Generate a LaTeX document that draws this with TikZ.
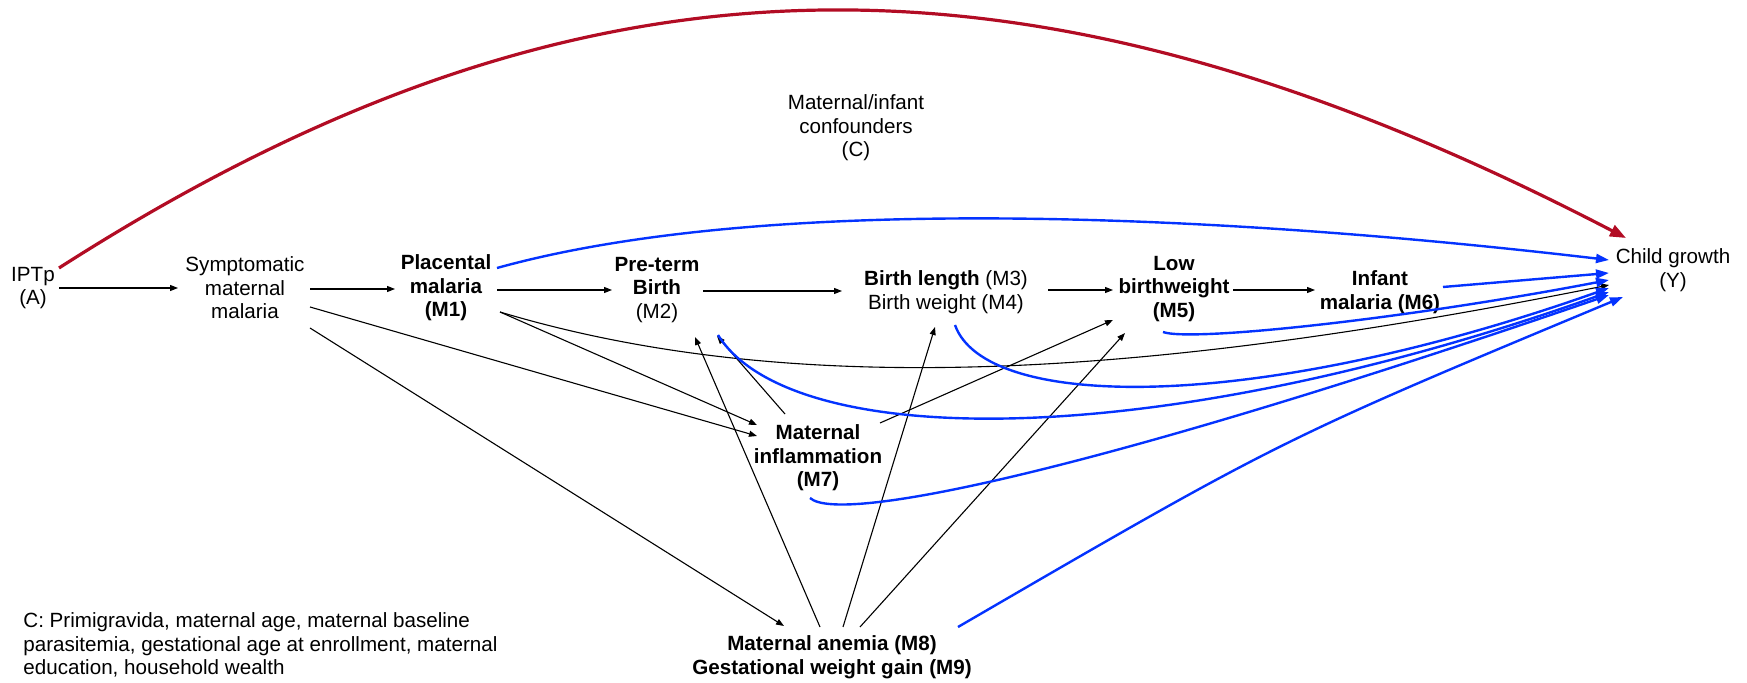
\documentclass[tikz,border=0pt]{standalone}
\usepackage{fontspec}
\setmainfont{Liberation Sans}
\usetikzlibrary{arrows.meta,calc}
\definecolor{cblue}{RGB}{4,51,255}
\definecolor{cred}{RGB}{178,12,36}
\begin{document}
\begin{tikzpicture}[x=0.5pt,y=-0.5pt,
  lbl/.style={align=center,inner sep=0pt,font=\fontsize{10.3}{11.8}\selectfont},
  blk/.style={draw=black,line width=0.55pt,-{Triangle[length=4pt,width=3pt]}},
  blu/.style={draw=cblue,line width=1.2pt,-{Triangle[length=6.5pt,width=4.5pt]}},
  redarr/.style={draw=cred,line width=1.6pt,-{Triangle[length=8pt,width=6pt]}}]
\useasboundingbox (0,0) rectangle (1747,683);

% nodes
\node[lbl] (A) at (33,288) {IPTp\\(A)};
\node[lbl] (S) at (245,288) {Symptomatic\\maternal\\malaria};
\node[lbl] (M1) at (446,288) {\textbf{Placental}\\\textbf{malaria}\\\textbf{(M1)}};
\node[lbl] (M2) at (657,290) {\textbf{Pre-term}\\\textbf{Birth}\\(M2)};
\node[lbl] (M34) at (946,292) {\textbf{Birth length} (M3)\\Birth weight (M4)};
\node[lbl] (M5) at (1174,289) {\textbf{Low}\\\textbf{birthweight}\\\textbf{(M5)}};
\node[lbl] (M6) at (1380,292) {\textbf{Infant}\\\textbf{malaria (M6)}};
\node[lbl] (Y) at (1673,270) {Child growth\\(Y)};
\node[lbl] (C) at (856,128) {Maternal/infant\\confounders\\(C)};
\node[lbl] (M7) at (818,458) {\textbf{Maternal}\\\textbf{inflammation}\\\textbf{(M7)}};
\node[lbl] (M89) at (832,657) {\textbf{Maternal anemia (M8)}\\\textbf{Gestational weight gain (M9)}};
\node[lbl,align=left,anchor=west] (L) at (23,645) {C: Primigravida, maternal age, maternal baseline\\parasitemia, gestational age at enrollment, maternal\\education, household wealth};

% red total effect
\draw[redarr] ($(A)+(26,-20)$) .. controls (579,-65) and (1026,-74) .. ($(Y)+(-47,-32)$);

% black straight chain
\draw[blk] ($(A)+(26,0)$) -- ($(S)+(-67,0)$);
\draw[blk] ($(S)+(65,1)$) -- ($(M1)+(-51,1)$);
\draw[blk] ($(M1)+(51,2)$) -- ($(M2)+(-45,0)$);
\draw[blk] ($(M2)+(46,1)$) -- ($(M34)+(-104,-1)$);
\draw[blk] ($(M34)+(102,-2)$) -- ($(M5)+(-61,1)$);
\draw[blk] ($(M5)+(59,1)$) -- ($(M6)+(-65,-2)$);

% black diagonal
\draw[blk] ($(S)+(65,19)$) -- ($(M7)+(-61,-22)$);
\draw[blk] ($(M1)+(54,24)$) -- ($(M7)+(-61,-33)$);
\draw[blk] ($(M1)+(54,24)$) .. controls (800,402) and (1159,375) .. ($(Y)+(-64,15)$);
\draw[blk] ($(S)+(65,40)$) -- ($(M89)+(-48,-31)$);
\draw[blk] ($(M7)+(-33,-44)$) -- ($(M2)+(60,46)$);
\draw[blk] ($(M89)+(-12,-30)$) -- ($(M2)+(38,47)$);
\draw[blk] ($(M89)+(11,-30)$) -- ($(M34)+(-11,35)$);
\draw[blk] ($(M89)+(28,-30)$) -- ($(M5)+(-49,44)$);
\draw[blk] ($(M7)+(62,-35)$) -- ($(M5)+(-61,31)$);

% blue
\draw[blu] ($(M1)+(51,-20)$) .. controls (760,195) and (1200,212) .. ($(Y)+(-64,-10)$);
\draw[blu] ($(M6)+(63,-5)$) -- ($(Y)+(-64,3)$);
\draw[blu] ($(M5)+(-11,43)$) .. controls (1190,342) and (1400,320) .. ($(Y)+(-64,10)$);
\draw[blu] ($(M34)+(9,33)$) .. controls (985,410) and (1250,415) .. ($(Y)+(-64,18)$);
\draw[blu] ($(M2)+(61,45)$) .. controls (790,450) and (1150,455) .. ($(Y)+(-64,22)$);
\draw[blu] ($(M7)+(-8,40)$) .. controls (840,525) and (1100,470) .. ($(Y)+(-64,25)$);
\draw[blu] ($(M89)+(126,-30)$) .. controls (1280,440) .. ($(Y)+(-50,27)$);
\end{tikzpicture}
\end{document}
